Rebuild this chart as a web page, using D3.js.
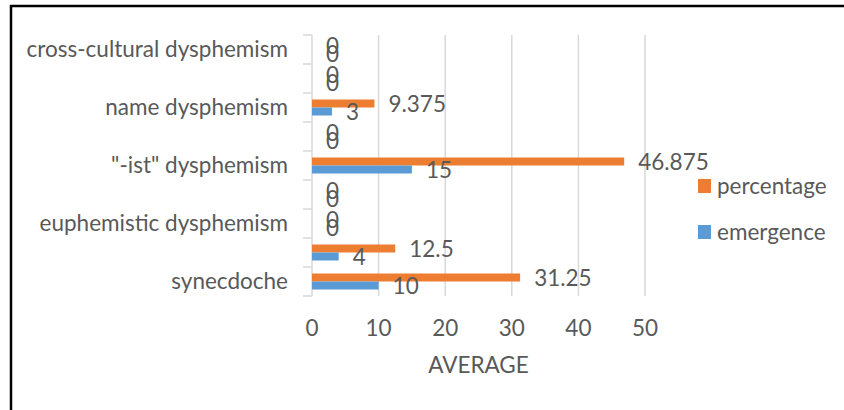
<!DOCTYPE html>
<html>
<head>
<meta charset="utf-8">
<script src="https://cdn.jsdelivr.net/npm/d3@7"></script>
<style>
  body { margin: 0; background: #fff; }
  text { font-family: Lato, "Open Sans", sans-serif; fill: #595959; font-size: 22.5px; }
</style>
</head>
<body>
<svg width="844" height="410"></svg>
<script>
// categories bottom to top (Excel only prints every second name)
var categories = ['synecdoche', 'dysphemistic euphemism', 'euphemistic dysphemism', 'profanity',
    '"-ist" dysphemism', 'epithet', 'name dysphemism', 'insult', 'cross-cultural dysphemism'];
var emergence = [10, 4, 0, 0, 15, 0, 3, 0, 0];
var percentage = [31.25, 12.5, 0, 0, 46.875, 0, 9.375, 0, 0];
var xTicks = [0, 10, 20, 30, 40, 50];

var svg = d3.select('svg');

// outer frame (only top and left edges are visible)
svg.append('path')
    .attr('d', 'M11,410 L11,6 L844,6')
    .attr('fill', 'none')
    .attr('stroke', '#000')
    .attr('stroke-width', 2.5);

var plot = {l: 312, r: 645, t: 35, b: 296};

var x = d3.scaleLinear().domain([0, 50]).range([plot.l, plot.r]);
var y = d3.scaleBand().domain(categories).range([plot.b, plot.t]);
var barH = y.step() * 0.276;

var grey = '#d9d9d9';

// gridlines
svg.append('g').selectAll('line')
    .data(xTicks.slice(1))
    .enter().append('line')
    .attr('x1', d => x(d)).attr('x2', d => x(d))
    .attr('y1', plot.t).attr('y2', plot.b)
    .attr('stroke', grey).attr('stroke-width', 1.5);

// category axis line and ticks
svg.append('line')
    .attr('x1', plot.l).attr('x2', plot.l)
    .attr('y1', plot.t).attr('y2', plot.b)
    .attr('stroke', grey).attr('stroke-width', 1.5);

var bounds = categories.map(c => y(c) + y.bandwidth()).concat([plot.t]);
svg.append('g').selectAll('line')
    .data(bounds)
    .enter().append('line')
    .attr('x1', plot.l - 9).attr('x2', plot.l)
    .attr('y1', d => d).attr('y2', d => d)
    .attr('stroke', grey).attr('stroke-width', 1.5);

// category labels, every second one
svg.append('g').selectAll('text')
    .data(categories.filter((c, i) => i % 2 == 0))
    .enter().append('text')
    .attr('x', 288)
    .attr('y', d => y(d) + y.bandwidth() / 2)
    .attr('dy', '0.35em')
    .attr('text-anchor', 'end')
    .text(d => d);

// value axis labels
svg.append('g').selectAll('text')
    .data(xTicks)
    .enter().append('text')
    .attr('x', d => x(d))
    .attr('y', 328)
    .attr('dy', '0.35em')
    .attr('text-anchor', 'middle')
    .text(d => d);

svg.append('text')
    .attr('x', (plot.l + plot.r) / 2)
    .attr('y', 365)
    .attr('dy', '0.35em')
    .attr('text-anchor', 'middle')
    .text('AVERAGE');

// bars
var series = [
    {name: 'percentage', values: percentage, color: '#ED7D31', off: -barH},
    {name: 'emergence', values: emergence, color: '#5B9BD5', off: 0}
];

series.forEach(function(s) {
    var g = svg.append('g');
    g.selectAll('rect')
        .data(categories)
        .enter().append('rect')
        .attr('x', plot.l)
        .attr('y', (d, i) => y(d) + y.bandwidth() / 2 + s.off)
        .attr('width', (d, i) => x(s.values[i]) - x(0))
        .attr('height', barH)
        .attr('fill', s.color);
    g.selectAll('text')
        .data(categories)
        .enter().append('text')
        .attr('x', (d, i) => x(s.values[i]) + 14)
        .attr('y', (d, i) => y(d) + y.bandwidth() / 2 + s.off + barH / 2 + 1)
        .attr('dy', '0.35em')
        .text((d, i) => s.values[i]);
});

// legend
var legend = svg.append('g').selectAll('g')
    .data(series)
    .enter().append('g')
    .attr('transform', (d, i) => 'translate(698,' + (179 + i * 46) + ')');
legend.append('rect')
    .attr('width', 13).attr('height', 14)
    .attr('fill', d => d.color);
legend.append('text')
    .attr('x', 19).attr('y', 7)
    .attr('dy', '0.35em')
    .text(d => d.name);
</script>
</body>
</html>
